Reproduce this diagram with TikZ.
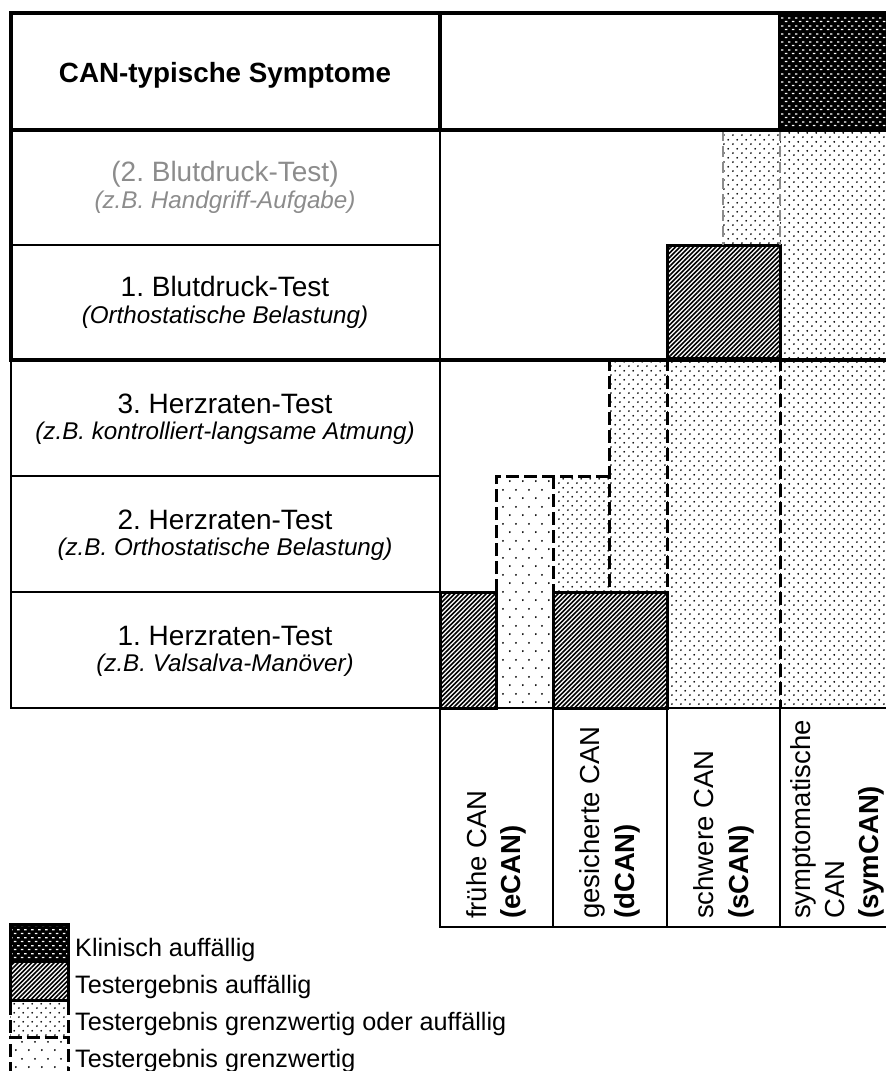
\documentclass[tikz,border=0pt]{standalone}
\usepackage{fontspec}
\setmainfont{Liberation Sans}
\usetikzlibrary{patterns}

\pgfdeclarepatternformonly{densedots}{\pgfqpoint{0pt}{0pt}}{\pgfqpoint{8.7pt}{8.7pt}}{\pgfqpoint{8.7pt}{8.7pt}}{%
  \pgfpathcircle{\pgfqpoint{2pt}{2pt}}{1pt}%
  \pgfpathcircle{\pgfqpoint{6.35pt}{6.35pt}}{1pt}%
  \pgfusepath{fill}}
\pgfdeclarepatternformonly{sparsedots}{\pgfqpoint{0pt}{0pt}}{\pgfqpoint{13pt}{16.6pt}}{\pgfqpoint{13pt}{16.6pt}}{%
  \pgfpathcircle{\pgfqpoint{3pt}{4pt}}{1.05pt}%
  \pgfpathcircle{\pgfqpoint{9.5pt}{12.3pt}}{1.05pt}%
  \pgfusepath{fill}}
\pgfdeclarepatternformonly{myhatch}{\pgfqpoint{-1pt}{-1pt}}{\pgfqpoint{5.5pt}{5.5pt}}{\pgfqpoint{4.5pt}{4.5pt}}{%
  \pgfsetlinewidth{1.7pt}%
  \pgfpathmoveto{\pgfqpoint{0pt}{0pt}}%
  \pgfpathlineto{\pgfqpoint{4.6pt}{4.6pt}}%
  \pgfusepath{stroke}}
\pgfdeclarepatternformonly{whitedots}{\pgfqpoint{0pt}{0pt}}{\pgfqpoint{6.7pt}{8pt}}{\pgfqpoint{6.7pt}{8pt}}{%
  \pgfpathrectangle{\pgfqpoint{1pt}{1pt}}{\pgfqpoint{2.4pt}{1.4pt}}%
  \pgfpathrectangle{\pgfqpoint{4.35pt}{5pt}}{\pgfqpoint{2.4pt}{1.4pt}}%
  \pgfusepath{fill}}

\definecolor{txtgray}{HTML}{8C8C8C}

\tikzset{
  thk/.style={line width=4pt},
  thn/.style={line width=1.6pt},
  dsh/.style={line width=3pt, dash pattern=on 13pt off 5pt},
  gdsh/.style={line width=2.5pt, draw=txtgray, dash pattern=on 11pt off 5pt},
  hatchbox/.style={pattern=myhatch, draw=black, line width=3pt},
  dense/.style={pattern=densedots},
  sparse/.style={pattern=sparsedots},
  klin/.style={pattern=whitedots, pattern color=white},
  hdrlbl/.style={anchor=base, inner sep=0pt, font=\fontsize{27.8}{30}\selectfont\bfseries},
  mainlbl/.style={anchor=base, inner sep=0pt, font=\fontsize{28}{30}\selectfont},
  sublbl/.style={anchor=base, inner sep=0pt, font=\fontsize{24.2}{26}\selectfont\itshape},
  rotlbl/.style={rotate=90, anchor=base west, inner sep=0pt, font=\fontsize{27.5}{30}\selectfont},
  rotbold/.style={rotlbl, font=\fontsize{27.5}{30}\selectfont\bfseries},
  leglbl/.style={anchor=base west, inner sep=0pt, font=\fontsize{25.2}{27}\selectfont}
}

\begin{document}
\frenchspacing
\begin{tikzpicture}[x=1pt,y=-1pt]
\useasboundingbox (0,0) rectangle (886,1071);
\clip (0,0) rectangle (886,1071);

% dotted fills
\fill[dense] (780,130) rectangle (895,708);
\fill[dense] (723,130) rectangle (780,245);
\fill[dense] (667,358) rectangle (780,708);
\fill[dense] (609,358) rectangle (667,592);
\fill[dense] (553,476) rectangle (609,592);
\fill[sparse] (496,476) rectangle (553,708);

% clinical block
\fill[black] (779,13) rectangle (895,130);
\fill[klin] (781,16) rectangle (895,127);

% hatched boxes
\draw[hatchbox] (440,592) rectangle (496,708);
\draw[hatchbox] (553,592) rectangle (667,708);
\draw[hatchbox] (667,245) rectangle (780,358);

% dashed borders
\draw[dsh] (496,592) -- (496,476) -- (609,476);
\draw[dsh] (553,476) -- (553,592);
\draw[dsh] (609,358) -- (609,592);
\draw[dsh] (667,358) -- (667,592);
\draw[dsh] (780,358) -- (780,708);
\draw[gdsh] (723,130) -- (723,245);
\draw[gdsh] (780,130) -- (780,245);

% table lines
\draw[thk] (9,13) -- (895,13);
\draw[thk] (11,11) -- (11,362);
\draw[thk] (9,130) -- (895,130);
\draw[thk] (440,13) -- (440,130);
\draw[line width=3pt] (779,13) -- (779,130);
\draw[thk] (9,360) -- (895,360);
\draw[thn] (440,130) -- (440,927);
\draw[thn] (11,245) -- (440,245);
\draw[thn] (11,360) -- (11,708);
\draw[thn] (11,476) -- (440,476);
\draw[thn] (11,592) -- (440,592);
\draw[line width=2.6pt] (10,708) -- (895,708);
\draw[thn] (553,708) -- (553,927);
\draw[thn] (667,708) -- (667,927);
\draw[thn] (780,708) -- (780,927);
\draw[thn] (439,927) -- (895,927);

% left column texts
\node[hdrlbl] (hdr) at (225,82) {CAN-typische Symptome};
\node[mainlbl, text=txtgray] (bd2) at (225,181.5) {(2. Blutdruck-Test)};
\node[sublbl, text=txtgray] (bd2s) at (225,208) {(z.B. Handgriff-Aufgabe)};
\node[mainlbl] (bd1) at (225,296.5) {1. Blutdruck-Test};
\node[sublbl] (bd1s) at (225,323) {(Orthostatische Belastung)};
\node[mainlbl] (hr3) at (225,413) {3. Herzraten-Test};
\node[sublbl] (hr3s) at (225,439.5) {(z.B. kontrolliert-langsame Atmung)};
\node[mainlbl] (hr2) at (225,529) {2. Herzraten-Test};
\node[sublbl] (hr2s) at (225,555.5) {(z.B. Orthostatische Belastung)};
\node[mainlbl] (hr1) at (225,645) {1. Herzraten-Test};
\node[sublbl] (hr1s) at (225,671.5) {(z.B. Valsalva-Manöver)};

% column labels
\node[rotlbl] (e1) at (486,919) {frühe CAN};
\node[rotbold] (e2) at (520,919) {(eCAN)};
\node[rotlbl] (d1) at (599,919) {gesicherte CAN};
\node[rotbold] (d2) at (634,919) {(dCAN)};
\node[rotlbl] (s1) at (713,919) {schwere CAN};
\node[rotbold] (s2) at (748,919) {(sCAN)};
\node[rotlbl] (y1) at (810,919) {symptomatische};
\node[rotlbl] (y2) at (844,919) {CAN};
\node[rotbold] (y3) at (878,919) {(symCAN)};

% legend
\fill[black] (9,923) rectangle (70,1002);
\fill[klin] (12,926) rectangle (67,960);
\fill[white] (12,963) rectangle (67,999);
\fill[pattern=myhatch] (12,963) rectangle (67,999);
\fill[dense] (10,1002) rectangle (69,1036);
\draw[dsh] (10.5,1002) -- (10.5,1036);
\draw[dsh] (68.5,1002) -- (68.5,1036);
\fill[sparse] (10,1036) rectangle (69,1075);
\draw[dsh] (10.5,1075) -- (10.5,1037) -- (68.5,1037) -- (68.5,1075);

\node[leglbl] (l1) at (75,956) {Klinisch auffällig};
\node[leglbl] (l2) at (75,993) {Testergebnis auffällig};
\node[leglbl] (l3) at (75,1030) {Testergebnis grenzwertig oder auffällig};
\node[leglbl] (l4) at (75,1067) {Testergebnis grenzwertig};
\end{tikzpicture}
\end{document}
